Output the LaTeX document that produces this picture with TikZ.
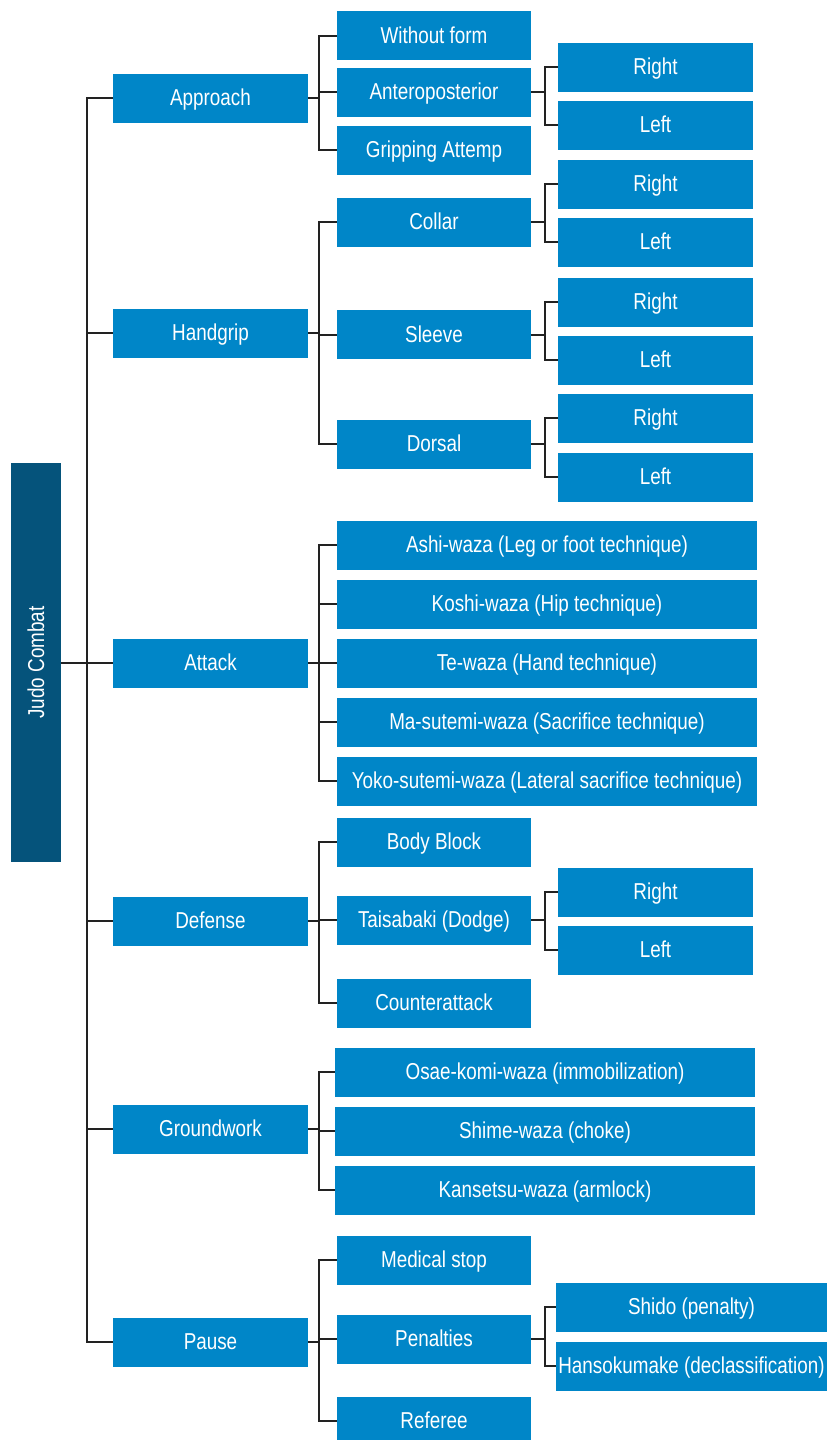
\documentclass[tikz,border=0pt]{standalone}
\usepackage{fontspec}
\setmainfont{Liberation Sans}[FakeStretch=0.82]
\definecolor{boxblue}{HTML}{0086C8}
\definecolor{rootblue}{HTML}{05537B}
\definecolor{linegray}{HTML}{222222}
\tikzset{
	item/.style={fill=boxblue,text=white,inner sep=0pt,minimum height=49pt,text depth=1pt,font=\fontsize{23}{27}\selectfont},
	lvone/.style={item,minimum width=195pt},
	lvtwo/.style={item,minimum width=194pt},
	lvwide/.style={item,minimum width=420pt},
	lvthree/.style={item,minimum width=195pt},
	link/.style={draw=linegray,line width=2pt}
}
\begin{document}
\begin{tikzpicture}[x=1pt,y=-1pt]
	\useasboundingbox (0,0) rectangle (827,1440);
	% the root
	\node[fill=rootblue,text=white,minimum width=50pt,minimum height=399pt,inner sep=0pt,
	font=\fontsize{23}{27}\selectfont] (judo) at (36,662.5) {\rotatebox{90}{Judo Combat}};
	%% first level
	\node[lvone] (approach) at (210.5,98) {Approach};
	\node[lvone] (handgrip) at (210.5,333) {Handgrip};
	\node[lvone] (attack) at (210.5,663) {Attack};
	\node[lvone] (defense) at (210.5,921) {Defense};
	\node[lvone] (groundwork) at (210.5,1129) {Groundwork};
	\node[lvone] (pause) at (210.5,1342) {Pause};
	%% second level
	\node[lvtwo] (wform) at (434,35.5) {Without form};
	\node[lvtwo] (antero) at (434,92) {Anteroposterior};
	\node[lvtwo] (gripping) at (434,150) {Gripping Attemp};
	\node[lvtwo] (collar) at (434,222) {Collar};
	\node[lvtwo] (sleeve) at (434,334.5) {Sleeve};
	\node[lvtwo] (dorsal) at (434,444) {Dorsal};
	\node[lvwide] (ashi) at (547,545) {Ashi-waza (Leg or foot technique)};
	\node[lvwide] (koshi) at (547,604) {Koshi-waza (Hip technique)};
	\node[lvwide] (te) at (547,663) {Te-waza (Hand technique)};
	\node[lvwide] (masutemi) at (547,722) {Ma-sutemi-waza (Sacrifice technique)};
	\node[lvwide] (yoko) at (547,781) {Yoko-sutemi-waza (Lateral sacrifice technique)};
	\node[lvtwo] (body) at (434,842) {Body Block};
	\node[lvtwo] (taisabaki) at (434,920) {Taisabaki (Dodge)};
	\node[lvtwo] (counter) at (434,1003) {Counterattack};
	\node[lvwide] (osae) at (545,1072) {Osae-komi-waza (immobilization)};
	\node[lvwide] (shime) at (545,1131) {Shime-waza (choke)};
	\node[lvwide] (kansetsu) at (545,1190) {Kansetsu-waza (armlock)};
	\node[lvtwo] (medical) at (434,1260) {Medical stop};
	\node[lvtwo] (penalties) at (434,1339) {Penalties};
	\node[lvtwo] (referee) at (434,1421) {Referee};
	%% third level
	\node[lvthree] (anteroR) at (655.5,67) {Right};
	\node[lvthree] (anteroL) at (655.5,125) {Left};
	\node[lvthree] (collarR) at (655.5,184) {Right};
	\node[lvthree] (collarL) at (655.5,242) {Left};
	\node[lvthree] (sleeveR) at (655.5,302) {Right};
	\node[lvthree] (sleeveL) at (655.5,360) {Left};
	\node[lvthree] (dorsalR) at (655.5,418) {Right};
	\node[lvthree] (dorsalL) at (655.5,477) {Left};
	\node[lvthree] (taisabakiR) at (655.5,892) {Right};
	\node[lvthree] (taisabakiL) at (655.5,950) {Left};
	\node[item,minimum width=271pt] (shido) at (691.5,1307) {Shido (penalty)};
	\node[item,minimum width=271pt] (hansoku) at (691.5,1366) {Hansokumake (declassification)};
	%% the connectors
	\foreach \child in {approach,handgrip,attack,defense,groundwork,pause}
		\draw[link] (judo.east) -- ++(26,0) |- (\child.west);
	\foreach \child in {wform,antero,gripping}
		\draw[link] (approach.east) -- ++(11,0) |- (\child.west);
	\foreach \child in {collar,sleeve,dorsal}
		\draw[link] (handgrip.east) -- ++(11,0) |- (\child.west);
	\foreach \child in {ashi,koshi,te,masutemi,yoko}
		\draw[link] (attack.east) -- ++(11,0) |- (\child.west);
	\foreach \child in {body,taisabaki,counter}
		\draw[link] (defense.east) -- ++(11,0) |- (\child.west);
	\foreach \child in {osae,shime,kansetsu}
		\draw[link] (groundwork.east) -- ++(11,0) |- (\child.west);
	\foreach \child in {medical,penalties,referee}
		\draw[link] (pause.east) -- ++(11,0) |- (\child.west);
	\foreach \parent in {antero,collar,sleeve,dorsal,taisabaki}{
		\draw[link] (\parent.east) -- ++(14,0) |- (\parent R.west);
		\draw[link] (\parent.east) -- ++(14,0) |- (\parent L.west);
	}
	\draw[link] (penalties.east) -- ++(14,0) |- (shido.west);
	\draw[link] (penalties.east) -- ++(14,0) |- (hansoku.west);
\end{tikzpicture}
\end{document}
